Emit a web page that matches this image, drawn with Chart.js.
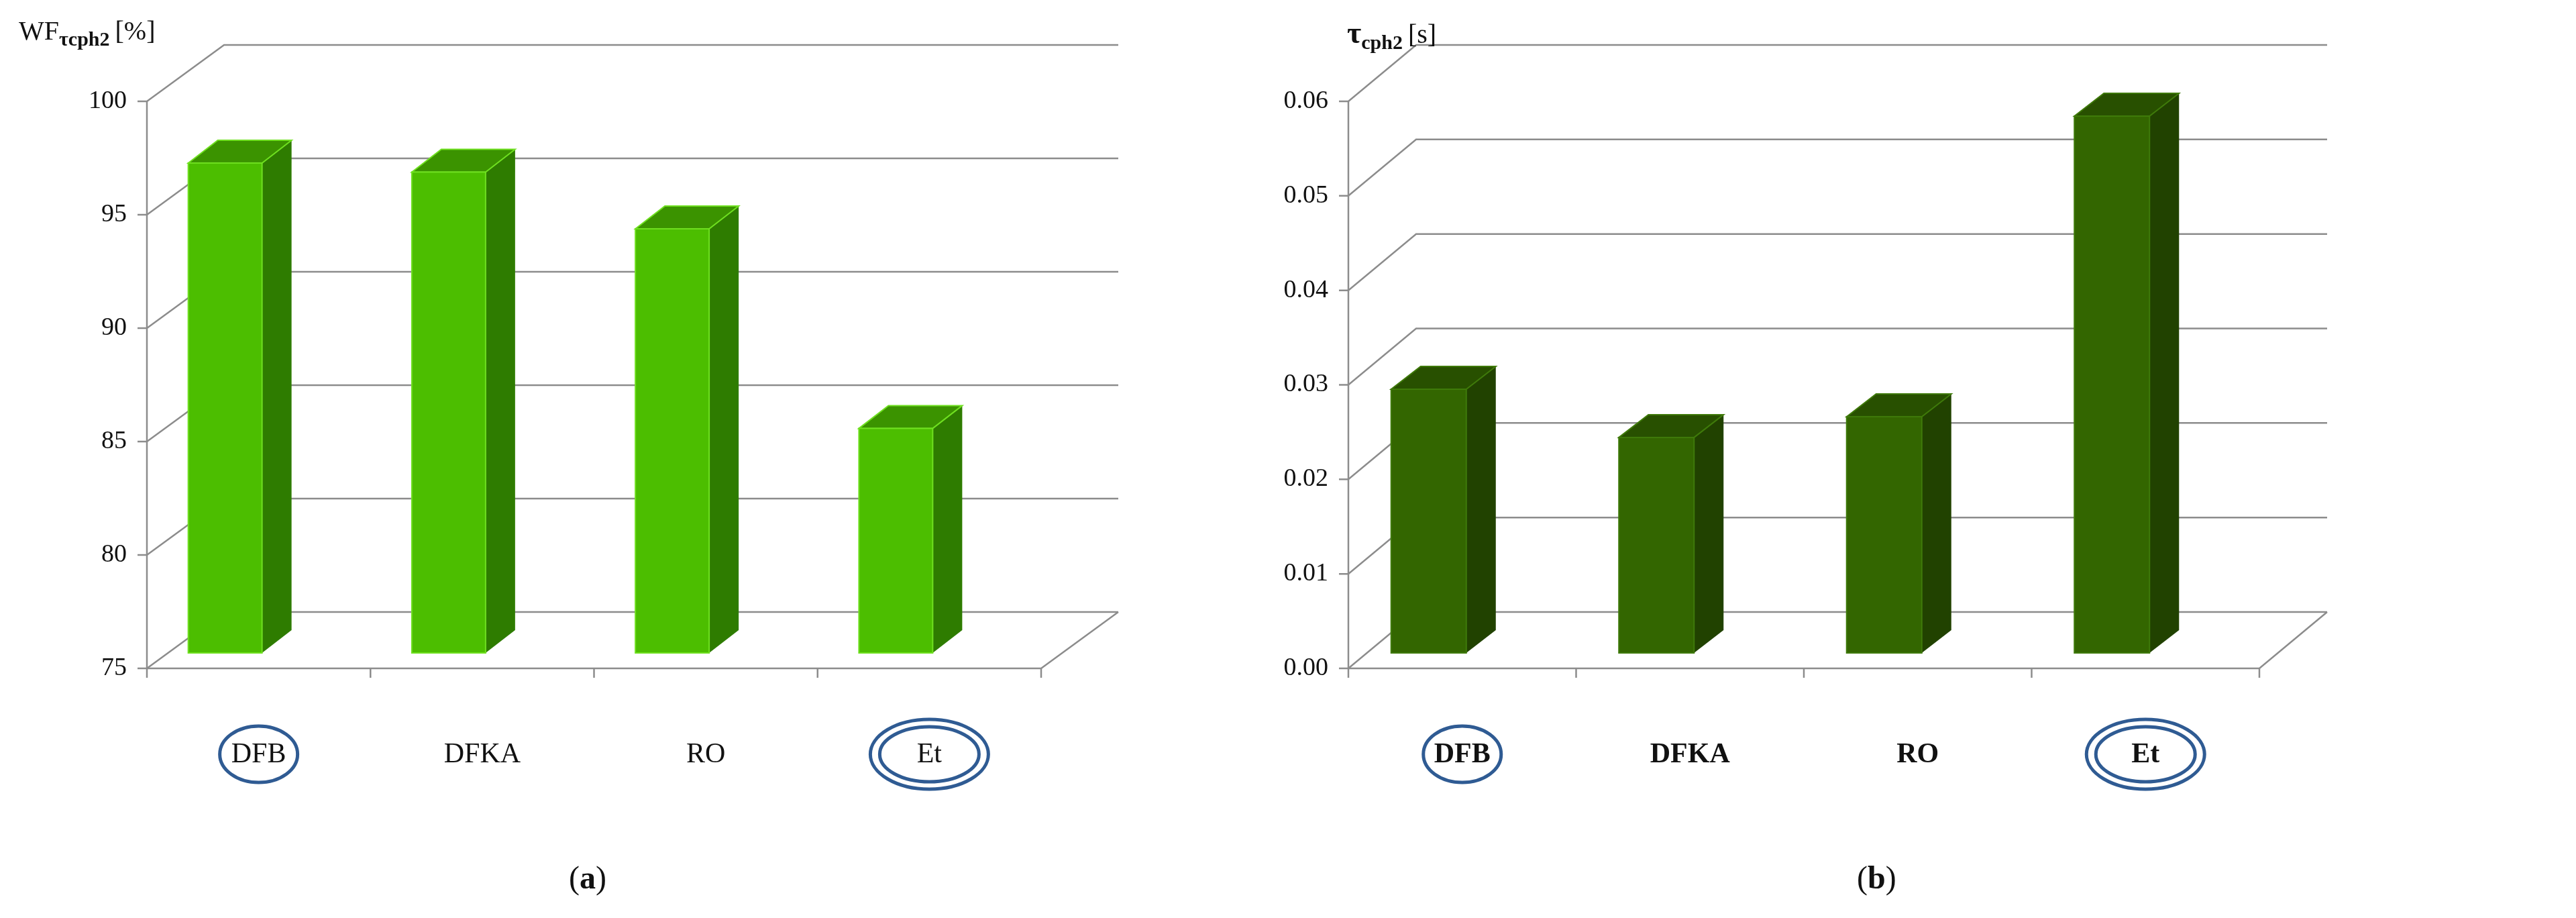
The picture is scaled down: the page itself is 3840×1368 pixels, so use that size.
<!DOCTYPE html>
<html>
<head>
<meta charset="utf-8">
<script src="https://cdn.jsdelivr.net/npm/chart.js@4.4.1/dist/chart.umd.min.js"></script>
<style>
  body { margin: 0; background: #fff; width: 3840px; height: 1368px; position: relative; overflow: hidden; font-family: 'Liberation Serif', 'DejaVu Serif', serif; }
  .panel { position: absolute; top: 0; height: 1368px; }
  .ytitle { position: absolute; top: 22px; font-size: 40px; color: #111; }
  .ytitle sub { font-size: 30px; font-weight: bold; }
  .caption { position: absolute; top: 1280px; font-size: 48px; color: #111; }
</style>
</head>
<body>
<div class="panel" style="left:0;width:1800px"><canvas id="chartA" width="1800" height="1368"></canvas></div>
<div class="panel" style="left:1800px;width:2040px"><canvas id="chartB" width="2040" height="1368"></canvas></div>
<div class="ytitle" style="left:28px">WF<sub>τcph2</sub>&thinsp;[%]</div>
<div class="ytitle" style="left:2008px"><b style="font-size:46px">τ</b><sub>cph2</sub>&thinsp;[s]</div>
<div class="caption" style="left:848px">(<b>a</b>)</div>
<div class="caption" style="left:2768px">(<b>b</b>)</div>
<script>
const categories = ['DFB', 'DFKA', 'RO', 'Et'];
const wfValues = [96.6, 96.2, 93.7, 84.9];
const tauValues = [0.0279, 0.0228, 0.0250, 0.0568];
const wfTicks = { min: 75, max: 100, step: 5 };
const tauTicks = { min: 0, max: 0.06, step: 0.01 };
const circled = { DFB: 1, Et: 2 };

const gridColor = '#8c8c8c';

// perspective grid, 3D bars and circled labels
const make3d = (colors, wall, depth) => ({
  id: 'fake3d',
  beforeDatasetsDraw(chart) {
    const { ctx, chartArea: a, scales: { y } } = chart;
    ctx.save();
    ctx.strokeStyle = gridColor;
    ctx.lineWidth = 2.5;
    y.ticks.forEach(t => {
      const py = y.getPixelForValue(t.value);
      ctx.beginPath();
      ctx.moveTo(a.left - 14, py);
      ctx.lineTo(a.left, py);
      ctx.lineTo(a.left + wall.dx, py + wall.dy);
      ctx.lineTo(a.right + wall.dx, py + wall.dy);
      ctx.stroke();
    });
    ctx.beginPath();
    ctx.moveTo(a.left, a.top);
    ctx.lineTo(a.left, a.bottom + 14);
    ctx.moveTo(a.left, a.bottom);
    ctx.lineTo(a.right, a.bottom);
    ctx.lineTo(a.right + wall.dx, a.bottom + wall.dy);
    ctx.stroke();
    const slot = (a.right - a.left) / categories.length;
    for (let i = 1; i <= categories.length; i++) {
      ctx.beginPath();
      ctx.moveTo(a.left + i * slot, a.bottom);
      ctx.lineTo(a.left + i * slot, a.bottom + 14);
      ctx.stroke();
    }
    ctx.restore();
  },
  afterDatasetsDraw(chart) {
    const { ctx, scales: { x } } = chart;
    const meta = chart.getDatasetMeta(0);
    ctx.save();
    meta.data.forEach(bar => {
      const w = bar.width;
      const l = bar.x - w / 2 + depth.sx;
      const r = l + w;
      const t = bar.y + depth.sy;
      const b = bar.base + depth.sy;
      ctx.lineWidth = 2;
      ctx.strokeStyle = colors.edge;
      ctx.fillStyle = colors.side;
      ctx.beginPath();
      ctx.moveTo(r, t); ctx.lineTo(r + depth.dx, t + depth.dy);
      ctx.lineTo(r + depth.dx, b + depth.dy); ctx.lineTo(r, b); ctx.closePath();
      ctx.fill();
      ctx.fillStyle = colors.top;
      ctx.beginPath();
      ctx.moveTo(l, t); ctx.lineTo(l + depth.dx, t + depth.dy);
      ctx.lineTo(r + depth.dx, t + depth.dy); ctx.lineTo(r, t); ctx.closePath();
      ctx.fill(); ctx.stroke();
      ctx.fillStyle = colors.front;
      ctx.fillRect(l, t, w, b - t);
      ctx.strokeRect(l, t, w, b - t);
    });
    ctx.strokeStyle = '#2f5b93';
    ctx.lineWidth = 5;
    categories.forEach((c, i) => {
      const n = circled[c];
      if (!n) return;
      const cx = x.getPixelForValue(i);
      const cy = 1124;
      const rings = n === 1 ? [[58, 42]] : [[88, 52], [74, 41]];
      rings.forEach(([rx, ry]) => {
        ctx.beginPath();
        ctx.ellipse(cx, cy, rx, ry, 0, 0, Math.PI * 2);
        ctx.stroke();
      });
    });
    ctx.restore();
  }
});

const buildChart = (id, values, ticks, colors, fmt, bold, wall, padRight) => {
  const ctx = document.getElementById(id).getContext('2d');
  return new Chart(ctx, {
    type: 'bar',
    data: {
      labels: categories,
      datasets: [{
        data: values,
        base: ticks.min,
        backgroundColor: 'rgba(0,0,0,0)',
        borderWidth: 0,
        barPercentage: 0.33,
        categoryPercentage: 1
      }]
    },
    options: {
      responsive: false,
      animation: false,
      events: [],
      layout: { padding: { top: 151, right: padRight, left: 0, bottom: 0 } },
      plugins: { legend: { display: false }, tooltip: { enabled: false } },
      scales: {
        x: {
          offset: true,
          grid: { display: false },
          border: { display: false },
          afterFit: s => { s.height = 372; },
          ticks: {
            padding: 96,
            color: '#111',
            callback: (v, i) => categories[i],
            font: { family: "'Liberation Serif', 'DejaVu Serif', serif", size: 42, weight: bold ? 'bold' : 'normal' }
          }
        },
        y: {
          min: ticks.min,
          max: ticks.max,
          grid: { display: false },
          border: { display: false },
          afterFit: s => { s.width = wall.left; },
          ticks: {
            stepSize: ticks.step,
            padding: 22,
            color: '#111',
            callback: fmt,
            font: { family: "'Liberation Serif', 'DejaVu Serif', serif", size: 38 }
          }
        }
      }
    },
    plugins: [make3d(colors, wall, { sx: -50, sy: -23, dx: 44, dy: -34 })]
  });
};

buildChart('chartA', wfValues, wfTicks,
  { front: '#4cbe00', side: '#2e7c00', top: '#3b9300', edge: '#6fe020' },
  v => v, false, { left: 219, dx: 115, dy: -84 }, 248);

buildChart('chartB', tauValues, tauTicks,
  { front: '#336600', side: '#214200', top: '#285000', edge: '#3f7a0a' },
  v => Number(v).toFixed(2), true, { left: 210, dx: 101, dy: -84 }, 472);
</script>
</body>
</html>
